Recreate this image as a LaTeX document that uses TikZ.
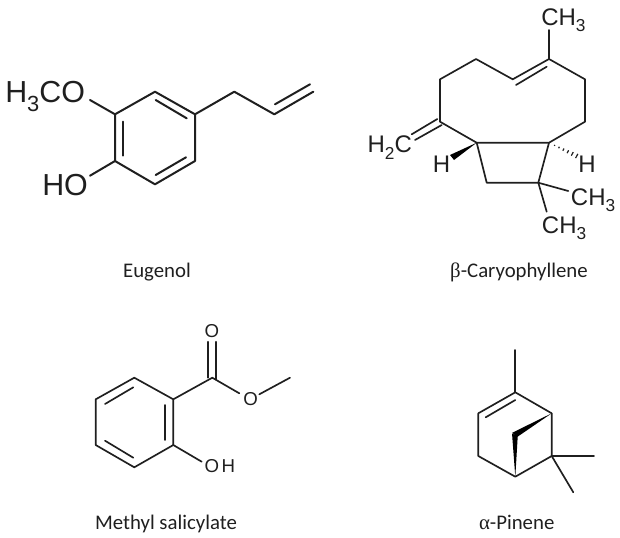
\documentclass[tikz,border=0pt]{standalone}
\usepackage{fontspec}
\usetikzlibrary{calc}
\setmainfont{Liberation Sans}
\newfontfamily\capfont{Carlito}
\newfontfamily\greekfont{Liberation Serif}
\newcommand{\csub}[1]{\raisebox{-0.28em}{\scalebox{0.72}{#1}}}
\definecolor{ink}{gray}{0.12}
\tikzset{
  bond/.style={draw=ink,line width=1.25pt,line cap=round,line join=round},
  bondb/.style={draw=ink,line width=1.5pt,line cap=round,line join=round},
  wedge/.style={fill=black,draw=none},
  atomA/.style={inner sep=0pt,anchor=base west,text=ink,font=\fontsize{22.8}{24}\selectfont},
  atomB/.style={inner sep=0pt,anchor=base west,text=ink,font=\fontsize{18}{20}\selectfont},
  atomC/.style={inner sep=0pt,anchor=base west,text=ink,font=\fontsize{14}{16}\selectfont},
  caption/.style={inner sep=0pt,anchor=base,text=ink,font=\capfont\fontsize{15.6}{18}\selectfont},
}
\begin{document}
\begin{tikzpicture}[x=0.75pt,y=-0.75pt]
\useasboundingbox (0,0) rectangle (620,537);
% ---------- Eugenol
\coordinate (e1) at (115,114.3); \coordinate (e2) at (155,91.7); \coordinate (e3) at (195,114.3);
\coordinate (e4) at (195,161); \coordinate (e5) at (155,184.3); \coordinate (e6) at (115,161);
\coordinate (e7) at (234.3,91.7); \coordinate (e8) at (274.3,114.3); \coordinate (e9) at (313.3,91.7);
\coordinate (e8i) at (275,104.3); \coordinate (e9i) at (310,84.3);
\coordinate (eO) at (90,100); \coordinate (eH) at (90,175.7);
\coordinate (ea1) at (155.7,100); \coordinate (ea2) at (186.7,118.3);
\coordinate (eb1) at (123.3,121.7); \coordinate (eb2) at (123.3,155.7);
\coordinate (ec1) at (155.7,175); \coordinate (ec2) at (186,157.3);
\draw[bondb] (e1)--(e2)--(e3)--(e4)--(e5)--(e6)--cycle;
\draw[bondb] (e3)--(e7)--(e8)--(e9);
\draw[bondb] (e8i)--(e9i);
\draw[bondb] (e1)--(eO);
\draw[bondb] (e6)--(eH);
\draw[bondb] (ea1)--(ea2);
\draw[bondb] (eb1)--(eb2);
\draw[bondb] (ec1)--(ec2);
\node[atomA] (eT1) at (5,102.7) {H\csub{3}CO};
\node[atomA] (eT2) at (42,195) {HO};
\node[caption] (eCap) at (157,277.3) {Eugenol};
% ---------- beta-Caryophyllene
\coordinate (c1) at (549,59); \coordinate (c2) at (585,79.3); \coordinate (c3) at (585,121.7);
\coordinate (c4) at (549,142.7); \coordinate (c5) at (476.7,142.7); \coordinate (c6) at (440,121.7);
\coordinate (c7) at (440,79.3); \coordinate (c8) at (476,59); \coordinate (c9) at (512.7,79.3);
\coordinate (c9i) at (516,85); \coordinate (c1i) at (546.7,66.7);
\coordinate (cMe) at (549,30);
\coordinate (c10) at (486.7,182.7); \coordinate (c11) at (538.3,182.7);
\coordinate (cM1) at (568.3,191); \coordinate (cM2) at (546.7,211.7);
\coordinate (cd1) at (437.3,119); \coordinate (cd2) at (411.7,134.3);
\coordinate (cd3) at (441.7,125); \coordinate (cd4) at (415,140);
\coordinate (cw1) at (450,155); \coordinate (cw2) at (454,160);
\coordinate (chE) at (576.7,156);
\draw[bond] (c1)--(c2)--(c3)--(c4)--(c5)--(c6)--(c7)--(c8)--(c9)--cycle;
\draw[bond] (c9i)--(c1i);
\draw[bond] (c1)--(cMe);
\draw[bond] (c5)--(c10)--(c11)--(c4);
\draw[bond] (c11)--(cM1);
\draw[bond] (c11)--(cM2);
\draw[bond] (cd1)--(cd2);
\draw[bond] (cd3)--(cd4);
\fill[wedge] (c5)--(cw1)--(cw2)--cycle;
\foreach \t/\w in {0.2/0.5,0.36/0.9,0.52/1.3,0.68/1.7,0.84/2.1,1/2.5}{
  \draw[draw=ink,line width=0.9pt] ($(c4)!\t!(chE)+(0.45*\w,-0.85*\w)$)--($(c4)!\t!(chE)-(0.45*\w,-0.85*\w)$);
}
\node[atomB] (cT1) at (541,25) {CH\csub{3}};
\node[atomB] (cT2) at (367.3,152.7) {H\csub{2}C};
\node[atomB] (cT3) at (432.7,172.7) {H};
\node[atomB] (cT4) at (578,172.7) {H};
\node[atomB] (cT5) at (570.7,205) {CH\csub{3}};
\node[atomB] (cT6) at (541.7,233) {CH\csub{3}};
\node[caption] (cCap) at (519,277.3) {{\greekfont β}-Caryophyllene};
% ---------- Methyl salicylate
\coordinate (m1) at (173.3,399.3); \coordinate (m2) at (134.3,377.7); \coordinate (m3) at (95.7,399.3);
\coordinate (m4) at (95.7,445); \coordinate (m5) at (134.3,467.3); \coordinate (m6) at (173.3,445);
\coordinate (ma1) at (133.3,387.3); \coordinate (ma2) at (105,404);
\coordinate (mb1) at (105,440.7); \coordinate (mb2) at (133.3,457.7);
\coordinate (mc1) at (165,405); \coordinate (mc2) at (165,440);
\coordinate (m7) at (212.3,377.7);
\coordinate (mo1) at (208.3,341.7); \coordinate (mo2) at (208.3,377.7);
\coordinate (mo3) at (216,341.7); \coordinate (mo4) at (216,379.5);
\coordinate (me1) at (239.3,393.3); \coordinate (me2) at (259.3,394.3); \coordinate (me3) at (290,377.7);
\coordinate (mh) at (201.7,461.7);
\draw[bond] (m1)--(m2)--(m3)--(m4)--(m5)--(m6)--cycle;
\draw[bond] (ma1)--(ma2);
\draw[bond] (mb1)--(mb2);
\draw[bond] (mc1)--(mc2);
\draw[bond] (m1)--(m7)--(me1);
\draw[bond] (me2)--(me3);
\draw[bond] (mo1)--(mo2);
\draw[bond] (mo3)--(mo4);
\draw[bond] (m6)--(mh);
\node[atomC] (mT1) at (204.3,337) {O};
\node[atomC] (mT2) at (243,405) {O};
\node[atomC] (mT3) at (204.3,472.3) {O\kern2pt H};
\node[caption] (mCap) at (166,529.3) {Methyl salicylate};
% ---------- alpha-Pinene
\coordinate (p0) at (515.3,350); \coordinate (p1) at (515.3,392.3); \coordinate (p2) at (551.7,413.3);
\coordinate (p3) at (551.7,456); \coordinate (p4) at (515.3,476.7); \coordinate (p5) at (478.3,456);
\coordinate (p6) at (478.3,413.3); \coordinate (pi1) at (485.7,417.3); \coordinate (pi2) at (515.3,400);
\coordinate (pM1) at (594,456); \coordinate (pM2) at (573.3,492.3);
\coordinate (pw1) at (512.3,432.7); \coordinate (pw2) at (516.7,437.3);
\coordinate (pw3) at (512,433.3); \coordinate (pw4) at (517.7,436.7);
\draw[bond] (p1)--(p2)--(p3)--(p4)--(p5)--(p6)--cycle;
\draw[bond] (p0)--(p1);
\draw[bond] (pi1)--(pi2);
\draw[bond] (p3)--(pM1);
\draw[bond] (p3)--(pM2);
\fill[wedge] (p2)--(pw1)--(pw2)--cycle;
\fill[wedge] (p4)--(pw3)--(pw4)--cycle;
\node[caption] (pCap) at (516.7,529.3) {{\greekfont α}-Pinene};
\end{tikzpicture}
\end{document}
